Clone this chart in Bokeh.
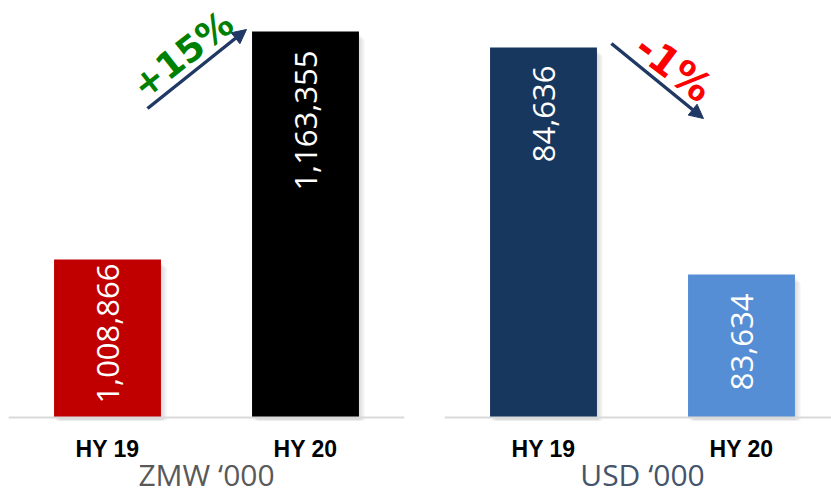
import math
from bokeh.plotting import figure
from bokeh.layouts import row
from bokeh.models import Range1d, Arrow, NormalHead, Span
from bokeh.embed import file_html
from bokeh.resources import INLINE
from bokeh.core.properties import value

# ---------------- data ----------------
categories = ["HY 19", "HY 20"]
zmw_values = [1008866, 1163355]
usd_values = [84636, 83634]
zmw_labels = ["1,008,866", "1,163,355"]
usd_labels = ["84,636", "83,634"]
zmw_change = "+15%"
usd_change = "-1%"
zmw_title = "ZMW \u2018000"
usd_title = "USD \u2018000"

# ---------------- styles ----------------
zmw_colors = ["#C00000", "#000000"]
usd_colors = ["#17375E", "#558ED5"]
ARROW_COLOR = "#1F3864"
H = 495
BASE_PX = 417          # baseline pixel row
CAT_PX = 448           # category label centre row
TITLE_PX = 474         # title centre row


def make_panel(values, labels, colors, y_base, px_unit, x_end, width, bl, br,
               title, title_color, label_pads):
    y_top = y_base + BASE_PX * px_unit
    y_bot = y_top - H * px_unit
    p = figure(width=width, height=H, x_range=Range1d(0, x_end),
               y_range=Range1d(y_bot, y_top), output_backend="svg",
               toolbar_location=None, min_border_left=bl, min_border_right=br,
               min_border_top=0, min_border_bottom=0)
    p.outline_line_color = None
    p.xgrid.visible = False
    p.ygrid.visible = False
    p.xaxis.visible = False
    p.yaxis.visible = False
    p.background_fill_color = "white"
    p.border_fill_color = "white"

    def ypx(px):
        return y_top - px * px_unit

    xs = [0.5 + i for i in range(len(values))]
    px_x = 1.0 / 198.0
    bw = 0.54

    # soft shadow
    for k in range(1, 7):
        p.vbar(x=[x + k * px_x for x in xs], top=[v - (k + 2) * px_unit for v in values],
               bottom=y_base - 3 * px_unit, width=bw, fill_color="#7F7F7F",
               fill_alpha=0.045, line_color=None)

    p.vbar(x=xs, top=values, bottom=y_base, width=bw, fill_color=colors,
           line_color=None)

    p.add_layout(Span(location=y_base, dimension="width", line_color="#D9D9D9",
                      line_width=2))

    ly = [v - pad * px_unit for v, pad in zip(values, label_pads)]
    p.text(x=xs, y=ly, text=labels, angle=math.pi / 2, text_align="right",
           text_baseline="middle", text_color="white",
           text_font=value("Open Sans"), text_font_size="31px")

    p.text(x=xs, y=[ypx(CAT_PX)] * len(xs), text=categories, text_align="center",
           text_baseline="middle", text_color="black",
           text_font=value("Liberation Sans"), text_font_style="bold",
           text_font_size="23px")
    p.text(x=[sum(xs) / len(xs)], y=[ypx(TITLE_PX)], text=[title],
           text_align="center", text_baseline="middle", text_color=title_color,
           text_font=value("Open Sans"), text_font_size="30px")
    return p, ypx


# ---------------- left panel ----------------
lpx = (zmw_values[1] - zmw_values[0]) / 228.0
left, lypx = make_panel(zmw_values, zmw_labels, zmw_colors, zmw_values[0] - 158 * lpx,
                        lpx, 2.0, 415, 8, 11, zmw_title, "#595959", [4, 19])
left.add_layout(Arrow(end=NormalHead(size=14, fill_color=ARROW_COLOR,
                                     line_color=ARROW_COLOR),
                      x_start=0.702, y_start=lypx(108),
                      x_end=1.202, y_end=lypx(29),
                      line_color=ARROW_COLOR, line_width=3.5))
left.text(x=[0.879], y=[lypx(54)], text=[zmw_change],
          angle=math.radians(38), text_align="center", text_baseline="middle",
          text_color="#008000", text_font=value("DejaVu Sans"),
          text_font_style="bold", text_font_size="36px")

# ---------------- right panel ----------------
rpx = (usd_values[0] - usd_values[1]) / 227.0
right, rypx = make_panel(usd_values, usd_labels, usd_colors, usd_values[1] - 143 * rpx,
                         rpx, 387 / 198, 416, 29, 0, usd_title, "#44546A", [18, 19])
right.add_layout(Arrow(end=NormalHead(size=14, fill_color=ARROW_COLOR,
                                      line_color=ARROW_COLOR),
                       x_start=0.843, y_start=rypx(43),
                       x_end=1.308, y_end=rypx(118),
                       line_color=ARROW_COLOR, line_width=3.5))
right.text(x=[1.159], y=[rypx(67)], text=[usd_change],
           angle=math.radians(-37), text_align="center", text_baseline="middle",
           text_color="#FF0000", text_font=value("DejaVu Sans"),
           text_font_style="bold", text_font_size="40px")

p = row(left, right)
open("out.html", "w").write(file_html(p, INLINE))
